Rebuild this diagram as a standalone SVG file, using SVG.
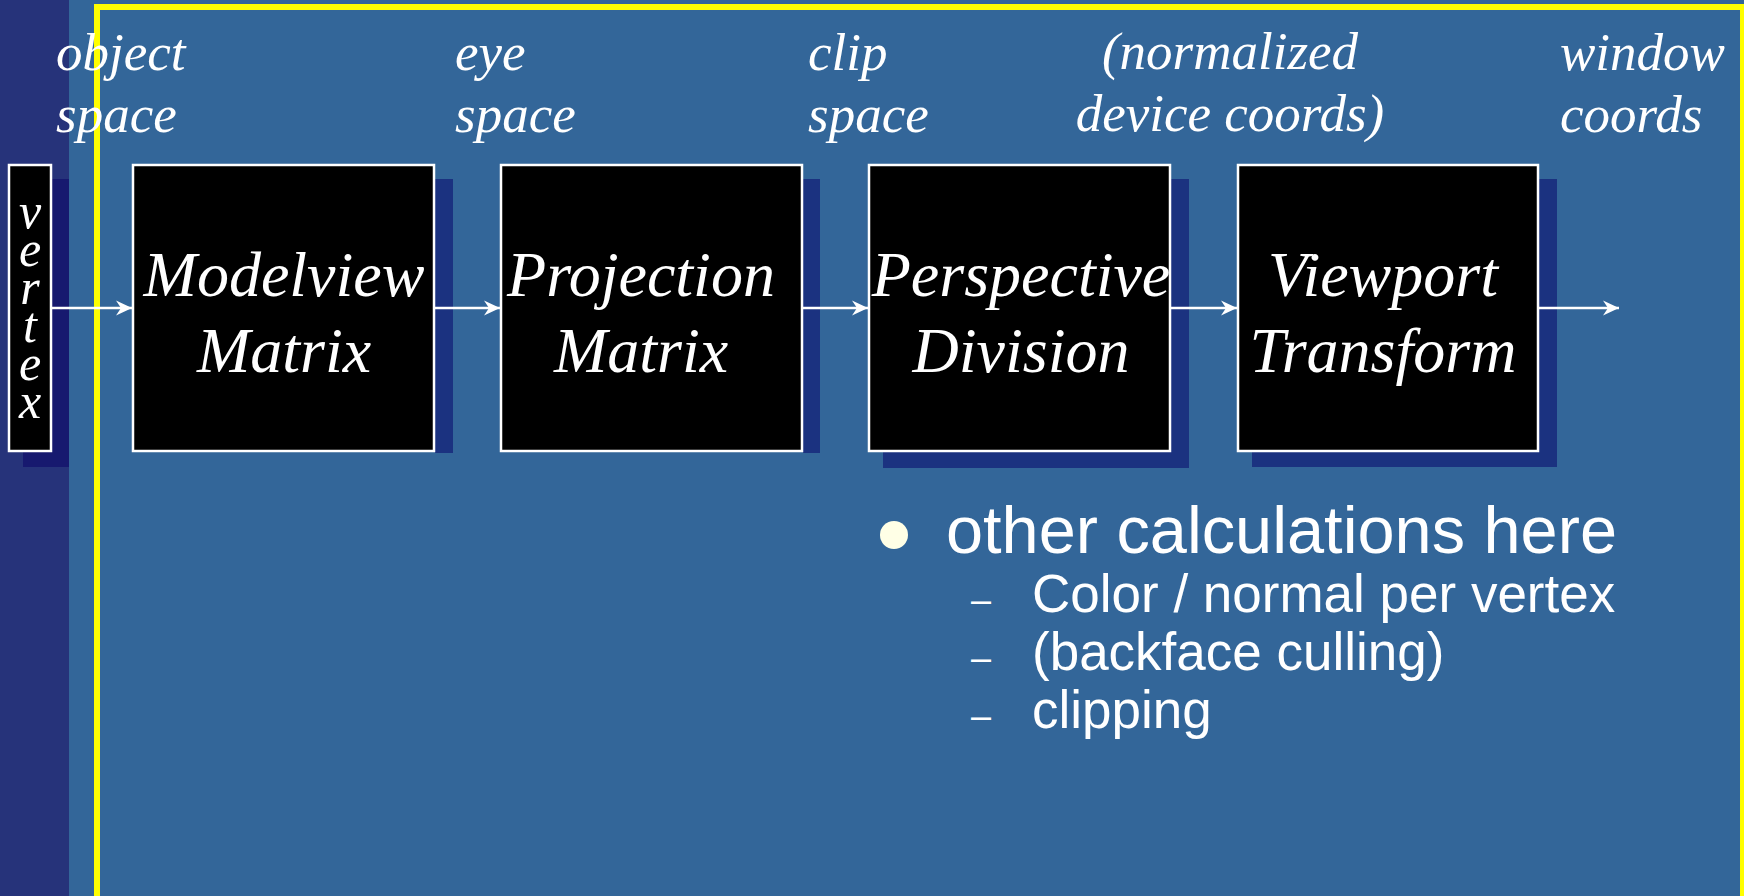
<svg xmlns="http://www.w3.org/2000/svg" width="1744" height="896" viewBox="0 0 1744 896">
<style>
.box{fill:#000;stroke:#fff;stroke-width:2.5}
.shadow{fill:#1b3280}
.boxt{font-family:"Liberation Serif","Times New Roman",serif;font-style:italic;font-size:64px;fill:#fff;text-anchor:middle}
.lbl{font-family:"Liberation Serif","Times New Roman",serif;font-style:italic;font-size:53px;fill:#fff}
.vt{font-family:"Liberation Serif","Times New Roman",serif;font-style:italic;font-size:50px;fill:#fff;text-anchor:middle}
.conn{stroke:#fff;stroke-width:2.5;fill:none;marker-end:url(#ah)}
.b1{font-family:"Liberation Sans",Arial,sans-serif;font-size:66.7px;fill:#fff}
.b2{font-family:"Liberation Sans",Arial,sans-serif;font-size:53px;fill:#fff}
.dash{font-family:"Liberation Sans",Arial,sans-serif;font-size:36px;fill:#fff}
</style>
<defs>
<marker id="ah" markerUnits="userSpaceOnUse" markerWidth="18" markerHeight="18" viewBox="-17 -9 18 18" refX="0" refY="0" orient="auto">
<path d="M0,0 L-16,-7.5 L-11,0 L-16,7.5 Z" fill="#fff"/>
</marker>
</defs>
<rect x="0" y="0" width="1744" height="896" fill="#336699"/>
<rect x="0" y="0" width="69" height="896" fill="#26337a"/>
<rect x="97" y="7" width="1646" height="900" fill="none" stroke="#ffff00" stroke-width="6"/>

<g id="labels">
<text class="lbl" x="56" y="70">object</text>
<text class="lbl" x="56" y="132">space</text>
<text class="lbl" x="455" y="70">eye</text>
<text class="lbl" x="455" y="132">space</text>
<text class="lbl" x="808" y="70">clip</text>
<text class="lbl" x="808" y="132">space</text>
<text class="lbl" x="1230" y="69" text-anchor="middle">(normalized</text>
<text class="lbl" x="1230" y="131" text-anchor="middle">device coords)</text>
<text class="lbl" x="1560" y="70">window</text>
<text class="lbl" x="1560" y="132">coords</text>
</g>

<g id="vertex">
<rect x="23" y="179" width="46" height="288" fill="#17196f"/>
<rect class="box" x="9" y="165" width="42" height="286"/>
<text class="vt" x="30" y="228">v<tspan x="30" dy="38">e</tspan><tspan x="30" dy="38">r</tspan><tspan x="30" dy="38">t</tspan><tspan x="30" dy="38">e</tspan><tspan x="30" dy="38">x</tspan></text>
</g>

<g id="modelview">
<rect class="shadow" x="435" y="179" width="18" height="274"/>
<rect class="box" x="133" y="165" width="301" height="286"/>
<text class="boxt" x="284" y="296">Modelview</text>
<text class="boxt" x="284" y="372">Matrix</text>
</g>

<g id="projection">
<rect class="shadow" x="803" y="179" width="17" height="274"/>
<rect class="box" x="501" y="165" width="301" height="286"/>
<text class="boxt" x="641" y="296">Projection</text>
<text class="boxt" x="641" y="372">Matrix</text>
</g>

<g id="perspective">
<rect class="shadow" x="883" y="179" width="306" height="289"/>
<rect class="box" x="869" y="165" width="301" height="286"/>
<text class="boxt" x="1021" y="296">Perspective</text>
<text class="boxt" x="1021" y="372">Division</text>
</g>

<g id="viewport">
<rect class="shadow" x="1252" y="179" width="305" height="288"/>
<rect class="box" x="1238" y="165" width="300" height="286"/>
<text class="boxt" x="1383" y="296">Viewport</text>
<text class="boxt" x="1383" y="372">Transform</text>
</g>

<g id="connectors">
<line class="conn" x1="52" y1="308" x2="132" y2="308"/>
<line class="conn" x1="435" y1="308" x2="500" y2="308"/>
<line class="conn" x1="803" y1="308" x2="868" y2="308"/>
<line class="conn" x1="1171" y1="308" x2="1237" y2="308"/>
<line class="conn" x1="1539" y1="308" x2="1619" y2="308"/>
</g>

<g id="notes">
<circle cx="894" cy="535" r="14" fill="#ffffe6"/>
<text class="b1" x="946" y="553">other calculations here</text>
<text class="dash" x="971" y="612">–</text>
<text class="b2" x="1032" y="612">Color / normal per vertex</text>
<text class="dash" x="971" y="670">–</text>
<text class="b2" x="1032" y="670">(backface culling)</text>
<text class="dash" x="971" y="728">–</text>
<text class="b2" x="1032" y="728">clipping</text>
</g>
</svg>
